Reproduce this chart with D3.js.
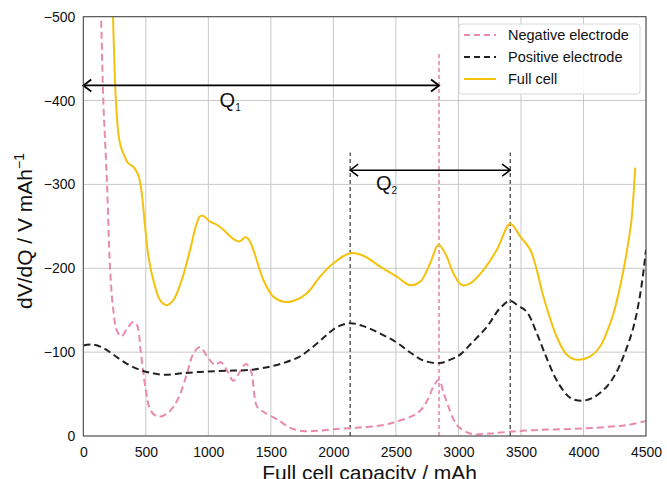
<!DOCTYPE html>
<html>
<head>
<meta charset="utf-8">
<script src="https://cdn.jsdelivr.net/npm/d3@7"></script>
<style>
  body { margin: 0; background: #fff; }
  svg { font-family: "Liberation Sans", Arial, sans-serif; }
</style>
</head>
<body>
<svg width="667" height="479"></svg>
<script>
// values (capacity in mAh, dV/dQ in V/mAh, negative)
var negElectrode = [[120,-600],[142,-500],[160,-400],[190,-300],[214,-200],[240,-150],[270,-125],[307,-119],[350,-128],[400,-136],[430,-132],[460,-100],[500,-55],[540,-30],[600,-23],[680,-28],[760,-45],[830,-75],[880,-98],[933,-106],[990,-95],[1050,-85],[1100,-88],[1150,-78],[1200,-66],[1250,-76],[1300,-86],[1340,-78],[1390,-35],[1450,-28],[1560,-19],[1650,-10],[1750,-6],[1850,-6],[2000,-8],[2200,-10],[2400,-13],[2500,-17],[2620,-23],[2700,-31],[2760,-45],[2800,-59],[2845,-67],[2880,-52],[2920,-35],[2960,-20],[3000,-11],[3060,-5],[3120,-2],[3250,-3],[3400,-5],[3600,-7],[3800,-8],[4000,-9],[4200,-11],[4350,-13],[4500,-18]];
var posElectrode = [[0,-108],[80,-109],[160,-105],[250,-96],[350,-86],[450,-79],[550,-75],[650,-73],[800,-75],[1000,-77],[1200,-78],[1350,-79],[1500,-83],[1620,-88],[1733,-95],[1850,-108],[1950,-121],[2030,-130],[2134,-134.5],[2240,-131],[2350,-124],[2500,-112],[2620,-99],[2720,-90],[2850,-87],[2950,-92],[3013,-97],[3100,-110],[3227,-130],[3330,-152],[3413,-161],[3480,-155],[3547,-148],[3620,-125],[3700,-95],[3780,-68],[3850,-52],[3900,-45],[3987,-42],[4080,-46],[4187,-59],[4260,-75],[4320,-95],[4400,-130],[4460,-175],[4500,-222]];
var fullCell = [[228,-600],[238,-500],[254,-420],[265,-390],[280,-361],[300,-345],[320,-337],[360,-325],[400,-321],[440,-311],[467,-290],[494,-250],[520,-215],[560,-186],[614,-162],[667,-156],[720,-162],[787,-186],[854,-222],[900,-250],[933,-262],[960,-262.5],[1010,-256],[1067,-252],[1120,-246],[1200,-235],[1250,-232],[1293,-237],[1320,-235],[1360,-222],[1440,-186],[1520,-166],[1600,-160],[1680,-161],[1787,-170],[1893,-190],[2000,-206],[2134,-218],[2240,-215],[2374,-202],[2507,-190],[2614,-180],[2694,-184],[2774,-206],[2840,-228],[2894,-218],[2960,-194],[3027,-180],[3094,-182],[3200,-198],[3307,-222],[3414,-253],[3494,-238],[3574,-222],[3630,-196],[3680,-166],[3787,-118],[3867,-97],[3947,-91],[4054,-95],[4134,-107],[4190,-125],[4240,-146],[4320,-198],[4374,-246],[4387,-262],[4414,-320]];

var xTicks = [0,500,1000,1500,2000,2500,3000,3500,4000,4500];
var yTicks = [0,-100,-200,-300,-400,-500];

// marker lines and capacity arrows
var negPeakQ = 2845, negPeakTop = -457;
var posPeaksQ = [2134, 3414], posPeakTop = -338;
var q1 = {from: 0, to: 2845, y: -418};
var q2 = {from: 2134, to: 3414, y: -317};

var legendItems = [
  {name: "Negative electrode", color: "#e88aa8", dash: "6,4"},
  {name: "Positive electrode", color: "#222", dash: "6,4"},
  {name: "Full cell", color: "#f4c20d", dash: null}
];

var svg = d3.select("svg"),
    margin = {top: 16.7, right: 21, bottom: 43, left: 83.3},
    width = +svg.attr("width") - margin.left - margin.right,
    height = +svg.attr("height") - margin.top - margin.bottom;

var x = d3.scaleLinear().domain([0, 4500]).range([0, width]),
    y = d3.scaleLinear().domain([0, -500]).range([height, 0]);

var g = svg.append("g")
    .attr("transform", "translate(" + margin.left + "," + margin.top + ")");

svg.append("defs").append("clipPath").attr("id", "clip")
  .append("rect").attr("width", width).attr("height", height);

// grid
g.append("g").selectAll("line").data(xTicks).enter().append("line")
    .attr("x1", d => x(d)).attr("x2", d => x(d))
    .attr("y1", 0).attr("y2", height)
    .attr("stroke", "#c8c8c8").attr("stroke-width", 1);
g.append("g").selectAll("line").data(yTicks).enter().append("line")
    .attr("y1", d => y(d)).attr("y2", d => y(d))
    .attr("x1", 0).attr("x2", width)
    .attr("stroke", "#c8c8c8").attr("stroke-width", 1);

// axes
var xAxis = g.append("g")
    .attr("transform", "translate(0," + height + ")")
    .call(d3.axisBottom(x).tickValues(xTicks).tickSize(0).tickPadding(11).tickFormat(d3.format("d")));
var yAxis = g.append("g")
    .call(d3.axisLeft(y).tickValues(yTicks).tickSize(0).tickPadding(8).tickFormat(d3.format("d")));
[xAxis, yAxis].forEach(function(a) {
  a.select(".domain").remove();
  a.selectAll("text").attr("font-size", 14).attr("fill", "#111")
    .attr("font-family", "Liberation Sans, Arial, sans-serif");
});

var line = d3.line()
    .x(d => x(d[0])).y(d => y(d[1]))
    .curve(d3.curveCatmullRom.alpha(0.5));

var plot = g.append("g").attr("clip-path", "url(#clip)");

// marker verticals
plot.append("line")
    .attr("x1", x(negPeakQ)).attr("x2", x(negPeakQ))
    .attr("y1", y(0)).attr("y2", y(negPeakTop))
    .attr("stroke", "#e88aa8").attr("stroke-width", 1.6).attr("stroke-dasharray", "4,3");
plot.selectAll(".vpos").data(posPeaksQ).enter().append("line")
    .attr("x1", d => x(d)).attr("x2", d => x(d))
    .attr("y1", y(0)).attr("y2", y(posPeakTop))
    .attr("stroke", "#111").attr("stroke-width", 1).attr("stroke-dasharray", "4,3");

plot.append("path").datum(negElectrode).attr("d", line)
    .attr("fill", "none").attr("stroke", "#e88aa8").attr("stroke-width", 2).attr("stroke-dasharray", "7,4");
plot.append("path").datum(posElectrode).attr("d", line)
    .attr("fill", "none").attr("stroke", "#222").attr("stroke-width", 2).attr("stroke-dasharray", "7,4");
plot.append("path").datum(fullCell).attr("d", line)
    .attr("fill", "none").attr("stroke", "#f4c20d").attr("stroke-width", 2);

// double-headed arrows
function arrow(q, sw, label, lx, ly, sub) {
  var x0 = x(q.from), x1 = x(q.to), yy = y(q.y);
  g.append("line").attr("x1", x0).attr("x2", x1).attr("y1", yy).attr("y2", yy)
      .attr("stroke", "#000").attr("stroke-width", sw);
  g.append("path")
      .attr("d", "M" + (x0 + 8) + "," + (yy - 6) + "L" + x0 + "," + yy + "L" + (x0 + 8) + "," + (yy + 6) +
                 "M" + (x1 - 8) + "," + (yy - 6) + "L" + x1 + "," + yy + "L" + (x1 - 8) + "," + (yy + 6))
      .attr("fill", "none").attr("stroke", "#000").attr("stroke-width", sw);
  var t = g.append("text").attr("x", lx).attr("y", ly).attr("font-size", 20).attr("fill", "#111").text(label);
  t.append("tspan").attr("font-size", 10).attr("dy", 4).text(sub);
}
arrow(q1, 1.8, "Q", x(1090), y(-400) + 6, "1");
arrow(q2, 1.5, "Q", x(2340), y(-300) + 6, "2");

// frame
g.append("rect").attr("width", width).attr("height", height)
    .attr("fill", "none").attr("stroke", "#444").attr("stroke-width", 1);

// legend
var lg = g.append("g").attr("transform", "translate(" + (459 - margin.left) + "," + (24 - margin.top) + ")");
lg.append("rect").attr("width", 181).attr("height", 70).attr("rx", 3)
    .attr("fill", "#fff").attr("fill-opacity", 0.85).attr("stroke", "#d8d8d8");
legendItems.forEach(function(d, i) {
  var yy = 11 + i * 22;
  lg.append("line").attr("x1", 5).attr("x2", 37).attr("y1", yy).attr("y2", yy)
      .attr("stroke", d.color).attr("stroke-width", 2).attr("stroke-dasharray", d.dash);
  lg.append("text").attr("x", 49).attr("y", yy + 5).attr("font-size", 14.5).attr("fill", "#111").text(d.name);
});

// axis titles
svg.append("text").attr("x", margin.left + width / 2 + 5).attr("y", 480)
    .attr("text-anchor", "middle").attr("font-size", 21).attr("fill", "#111")
    .text("Full cell capacity / mAh");
var yl = svg.append("text").attr("transform", "translate(32,231) rotate(-90)")
    .attr("text-anchor", "middle").attr("font-size", 21).attr("fill", "#111")
    .text("dV/dQ / V mAh");
yl.append("tspan").attr("font-size", 14).attr("dy", -8).text("−1");
</script>
</body>
</html>
